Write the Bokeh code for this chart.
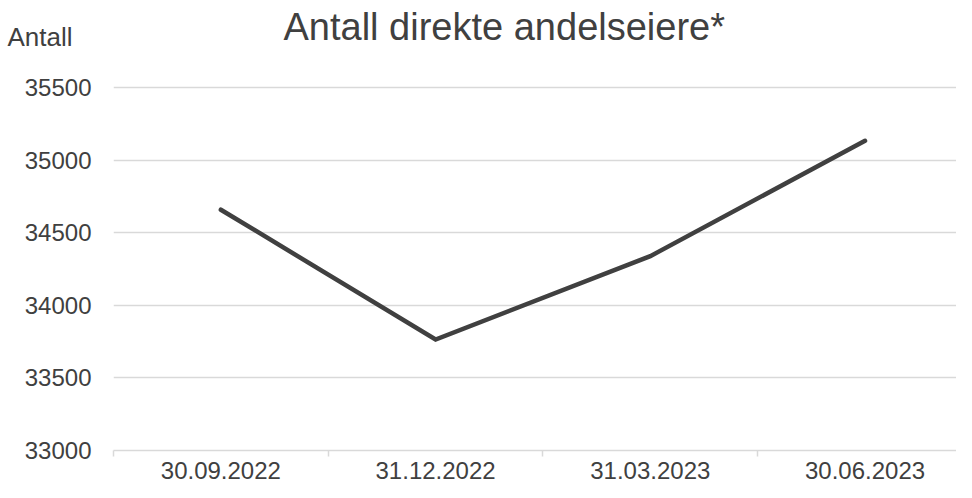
from bokeh.plotting import figure
from bokeh.models import FixedTicker, Range1d, Label
from bokeh.layouts import column
from bokeh.embed import file_html
from bokeh.resources import INLINE

categories = ["30.09.2022", "31.12.2022", "31.03.2023", "30.06.2023"]
values = [34660, 33765, 34340, 35135]
y_ticks = [33000, 33500, 34000, 34500, 35000, 35500]
title_text = "Antall direkte andelseiere*"
y_label_text = "Antall"

xs = list(range(1, len(categories) + 1))

W = 956
HEAD_H = 70
CHART_H = 412
FRAME_LEFT = 113
TEXT_COLOR = "#404040"
FONT = "Liberation Sans"

# header: title (label in frame) and unit label (as a left-axis tick label)
head = figure(width=W, height=HEAD_H, output_backend="svg", toolbar_location=None,
              x_range=Range1d(FRAME_LEFT, W), y_range=Range1d(HEAD_H, 0),
              x_axis_location=None, y_axis_location="left",
              min_border_left=FRAME_LEFT, min_border_right=0,
              min_border_top=0, min_border_bottom=0)
head.outline_line_color = None
head.background_fill_color = "white"
head.border_fill_color = "white"
head.xgrid.grid_line_color = None
head.ygrid.grid_line_color = None
head.yaxis.ticker = FixedTicker(ticks=[36])
head.yaxis.major_label_overrides = {36: y_label_text}
head.yaxis.axis_line_color = None
head.yaxis.major_tick_line_color = None
head.yaxis.minor_tick_line_color = None
head.yaxis.major_label_standoff = 35
head.yaxis.major_label_text_font = FONT
head.yaxis.major_label_text_font_size = "26px"
head.yaxis.major_label_text_color = TEXT_COLOR
head.add_layout(Label(x=283, y=26, text=title_text, text_font=FONT,
                      text_font_size="38px", text_color=TEXT_COLOR,
                      text_baseline="middle", text_align="left"))

p = figure(width=W, height=CHART_H, output_backend="svg", toolbar_location=None,
           x_range=Range1d(0.5, 4.426), y_range=Range1d(33000, 35530),
           min_border_left=FRAME_LEFT, min_border_right=0, min_border_top=13,
           min_border_bottom=32)
p.outline_line_color = None
p.background_fill_color = "white"
p.border_fill_color = "white"

p.line(xs, values, line_color=TEXT_COLOR, line_width=4.5,
       line_cap="round", line_join="miter")

# y axis
p.yaxis.ticker = FixedTicker(ticks=y_ticks)
p.yaxis.axis_line_color = None
p.yaxis.major_tick_line_color = None
p.yaxis.minor_tick_line_color = None
p.yaxis.major_label_standoff = 16
p.yaxis.major_label_text_font = FONT
p.yaxis.major_label_text_font_size = "24px"
p.yaxis.major_label_text_color = TEXT_COLOR

# x axis
p.xaxis.ticker = FixedTicker(ticks=xs, minor_ticks=[0.5, 1.5, 2.5, 3.5, 4.5])
p.xaxis.major_label_overrides = {x: c for x, c in zip(xs, categories)}
p.xaxis.axis_line_color = "#d9d9d9"
p.xaxis.axis_line_width = 1.5
p.xaxis.major_tick_line_color = None
p.xaxis.minor_tick_line_color = "#d9d9d9"
p.xaxis.minor_tick_line_width = 1.5
p.xaxis.minor_tick_out = 6
p.xaxis.minor_tick_in = 0
p.xaxis.major_label_standoff = 5
p.xaxis.major_label_text_font = FONT
p.xaxis.major_label_text_font_size = "24px"
p.xaxis.major_label_text_color = TEXT_COLOR

p.xgrid.grid_line_color = None
p.ygrid.grid_line_color = "#d9d9d9"
p.ygrid.grid_line_width = 1.5

layout = column(head, p, spacing=0)
open("out.html", "w").write(file_html(layout, INLINE))
